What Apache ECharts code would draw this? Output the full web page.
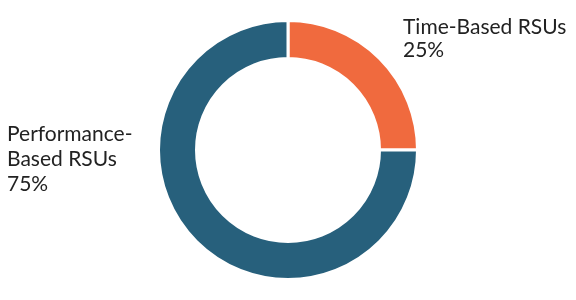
<!DOCTYPE html>
<html><head><meta charset="utf-8">
<script src="https://cdn.jsdelivr.net/npm/echarts@6/dist/echarts.min.js"></script>
<style>html,body{margin:0;padding:0;background:#fff}#c{width:576px;height:300px}</style>
</head><body><div id="c"></div>
<script>
const categories = ["Time-Based RSUs", "Performance-\nBased RSUs"];
const values = [25, 75];
const colors = ["#f06a3e", "#27607c"];

const chart = echarts.init(document.getElementById('c'), null, {renderer: 'canvas'});
const labelPos = [
  {x: 403, y: 16},
  {x: 7, y: 122}
];
const labelLH = [23, 25];
chart.setOption({
  animation: false,
  series: [{
    type: 'pie',
    center: [288, 150],
    radius: [91.5, 129.5],
    startAngle: 90,
    clockwise: true,
    itemStyle: {borderColor: '#fff', borderWidth: 3},
    data: categories.map((n, i) => ({
      name: n, value: values[i],
      itemStyle: {color: colors[i]},
      label: {lineHeight: labelLH[i]}
    })),
    label: {
      show: true,
      formatter: p => p.name + '\n' + p.percent + '%',
      fontFamily: 'Lato',
      fontSize: 21,
      color: '#222',
      align: 'left',
      overflow: 'none',
      width: 200
    },
    labelLine: {show: false},
    labelLayout: p => ({x: labelPos[p.dataIndex].x, y: labelPos[p.dataIndex].y, align: 'left', verticalAlign: 'top'})
  }]
});
</script></body></html>
